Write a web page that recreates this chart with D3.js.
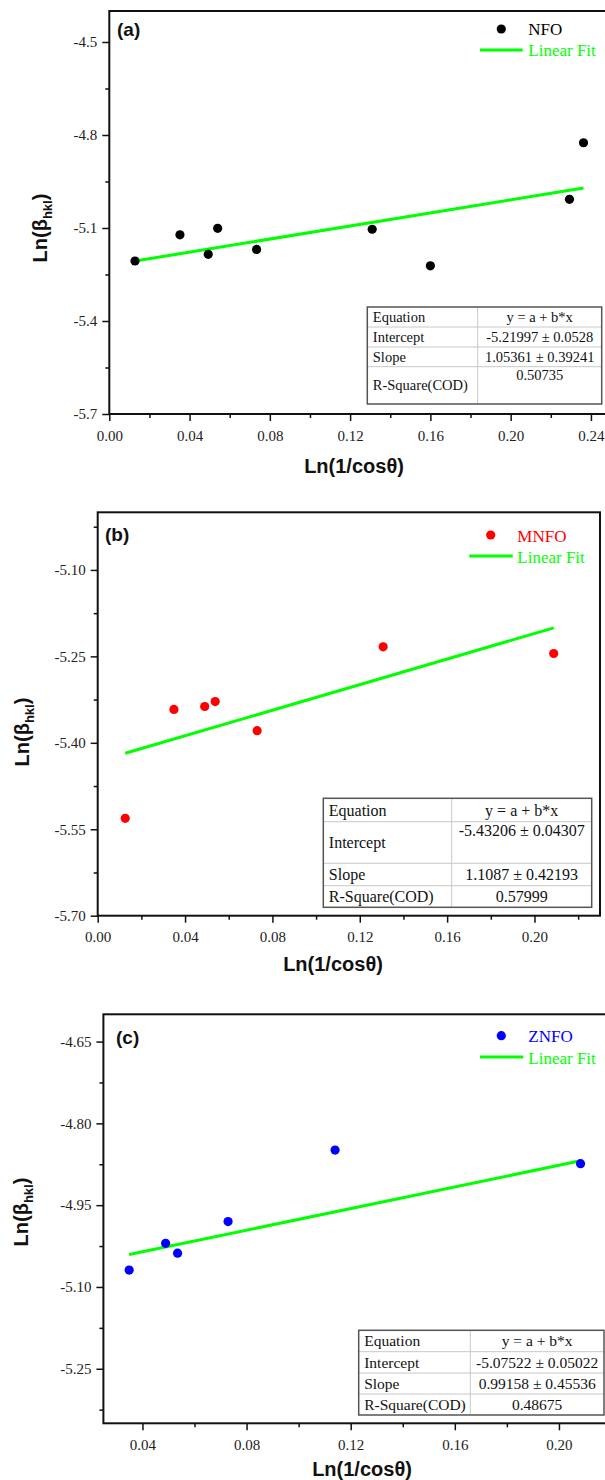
<!DOCTYPE html>
<html>
<head>
<meta charset="utf-8">
<script src="https://cdnjs.cloudflare.com/ajax/libs/d3/7.8.5/d3.min.js"></script>
<style>
  html, body { margin: 0; padding: 0; background: #fff; }
  svg { display: block; }
  .axis .tick text { font-family: "Liberation Serif", "Times New Roman", serif; font-size: 15px; fill: #222; }
  .axis .tick line { stroke: #111; stroke-width: 1.5; }
  .axis path.domain { display: none; }
  .frame { fill: none; stroke: #111; stroke-width: 2; }
  .title { font-family: "Liberation Sans", Arial, sans-serif; font-weight: bold; font-size: 20px; fill: #111; }
  .plabel { font-family: "Liberation Sans", Arial, sans-serif; font-weight: bold; font-size: 19px; fill: #111; }
  .legend text { font-family: "Liberation Serif", "Times New Roman", serif; font-size: 17px; }
  .tbl text { font-family: "Liberation Serif", "Times New Roman", serif; fill: #111; }
</style>
</head>
<body>
<div id="vis"></div>
<script>

// ---- data ----
var seriesNames = ["NFO", "MNFO", "ZNFO"];
var panelNames = ["(a)", "(b)", "(c)"];

var xNFO = [0.0128, 0.0352, 0.0493, 0.0540, 0.0734, 0.1310, 0.1600, 0.2293, 0.2363];
var yNFO = [-5.2065, -5.122, -5.185, -5.101, -5.169, -5.104, -5.222, -5.0075, -4.825];

var xMNFO = [0.0126, 0.0349, 0.0490, 0.0538, 0.0730, 0.1307, 0.2088];
var yMNFO = [-5.531, -5.342, -5.337, -5.3285, -5.379, -5.2335, -5.245];

var xZNFO = [0.0349, 0.0489, 0.0535, 0.0729, 0.1140, 0.2083];
var yZNFO = [-5.069, -5.020, -5.038, -4.980, -4.849, -4.874];

// fit results (as printed in the tables)
var intercepts = [-5.21997, -5.43206, -5.07522];
var slopes = [1.05361, 1.1087, 0.99158];
var tableRowNames = ["Equation", "Intercept", "Slope", "R-Square(COD)"];
var equationText = "y = a + b*x";
var interceptText = ["-5.21997 \u00b1 0.0528", "-5.43206 \u00b1 0.04307", "-5.07522 \u00b1 0.05022"];
var slopeText = ["1.05361 \u00b1 0.39241", "1.1087 \u00b1 0.42193", "0.99158 \u00b1 0.45536"];
var rSquareText = ["0.50735", "0.57999", "0.48675"];

// axes
var xDomains = [[0, 0.25], [0, 0.23], [0.025, 0.22]];
var yDomains = [[-5.7, -4.4], [-5.70, -5.00], [-5.35, -4.60]];
var xTicks = [[0, 0.04, 0.08, 0.12, 0.16, 0.20, 0.24],
              [0, 0.04, 0.08, 0.12, 0.16, 0.20],
              [0.04, 0.08, 0.12, 0.16, 0.20]];
var xMinorTicks = [[0.02, 0.06, 0.10, 0.14, 0.18, 0.22],
                   [0.02, 0.06, 0.10, 0.14, 0.18, 0.22],
                   [0.06, 0.10, 0.14, 0.18]];
var yTicks = [[-5.7, -5.4, -5.1, -4.8, -4.5],
              [-5.70, -5.55, -5.40, -5.25, -5.10],
              [-5.25, -5.10, -4.95, -4.80, -4.65]];
var yMinorTicks = [[-5.55, -5.25, -4.95, -4.65],
                   [-5.625, -5.475, -5.325, -5.175, -5.025],
                   [-5.325, -5.175, -5.025, -4.875, -4.725]];
var yTickFormats = [".1f", ".2f", ".2f"];
var xTitle = "Ln(1/cos\u03b8)";

// ---- layout / style ----
var width = 605, height = 1480;
var colors = ["#000000", "#ff0000", "#0000ff"];
var fitColor = "#00ff00";

var layouts = [
  { left: 109.3, right: 611, top: 11, bottom: 414,
    label: [117, 36], yTitle: [47, 228], xTitle: [354, 473],
    legend: { dot: [501.3, 29], line: [480, 522.7, 50], textX: 528.3, base: [35, 56] },
    table: { rows: [307, 327, 347, 366.7, 404], cols: [367.3, 477.7, 601.7], font: 14.5, tall: 3 } },
  { left: 97.7, right: 600, top: 512.3, bottom: 915.7,
    label: [105, 541], yTitle: [29, 732], xTitle: [333, 971],
    legend: { dot: [490.7, 535], line: [469.3, 512.7, 556], textX: 517.3, base: [541.7, 562.7] },
    table: { rows: [798.3, 821.7, 863.3, 885.7, 907.3], cols: [323.3, 451.7, 591.7], font: 16, tall: 1 } },
  { left: 103.4, right: 611, top: 1014.3, bottom: 1423.3,
    label: [116, 1044], yTitle: [28, 1212], xTitle: [362, 1476],
    legend: { dot: [501.3, 1035.7], line: [480, 523.3, 1057], textX: 528.3, base: [1041.7, 1063.7] },
    table: { rows: [1330.3, 1351.7, 1373, 1394, 1415], cols: [358.7, 470.3, 604], font: 15.5, tall: -1 } }
];

var xs = [xNFO, xMNFO, xZNFO],
    ys = [yNFO, yMNFO, yZNFO];

var svg = d3.select('#vis').append('svg')
    .attr('width', width)
    .attr('height', height);

layouts.forEach(function(L, i) { drawPanel(L, i); });

// draws one scatter panel with its fit line, legend and table
function drawPanel(L, i) {
  var g = svg.append('g');

  var x = d3.scaleLinear().domain(xDomains[i]).range([L.left, L.right]);
  var y = d3.scaleLinear().domain(yDomains[i]).range([L.bottom, L.top]);

  // minor ticks first, then major ticks with labels
  g.append('g').attr('class', 'axis')
      .attr('transform', 'translate(0,' + L.bottom + ')')
      .call(d3.axisBottom(x).tickValues(xMinorTicks[i]).tickSize(4).tickFormat(''));
  g.append('g').attr('class', 'axis')
      .attr('transform', 'translate(0,' + L.bottom + ')')
      .call(d3.axisBottom(x).tickValues(xTicks[i]).tickSize(7).tickPadding(4).tickFormat(d3.format('.2f')))
    .selectAll('.tick text').attr('dy', '1.05em');

  g.append('g').attr('class', 'axis')
      .attr('transform', 'translate(' + L.left + ',0)')
      .call(d3.axisLeft(y).tickValues(yMinorTicks[i]).tickSize(4).tickFormat(''));
  g.append('g').attr('class', 'axis')
      .attr('transform', 'translate(' + L.left + ',0)')
      .call(d3.axisLeft(y).tickValues(yTicks[i]).tickSize(7).tickPadding(5)
        .tickFormat(function(d) { return d3.format(yTickFormats[i])(d).replace('\u2212', '-'); }));

  g.selectAll('.axis .tick text').each(function() {
    var t = d3.select(this);
    t.text(t.text().replace('\u2212', '-'));
  });

  g.append('rect').attr('class', 'frame')
      .attr('x', L.left).attr('y', L.top)
      .attr('width', L.right - L.left).attr('height', L.bottom - L.top);

  // fit line over the data range
  var ext = d3.extent(xs[i]);
  g.append('path')
      .datum(ext)
      .attr('fill', 'none')
      .attr('stroke', fitColor)
      .attr('stroke-width', 3)
      .attr('d', d3.line()
        .x(function(d) { return x(d); })
        .y(function(d) { return y(intercepts[i] + slopes[i] * d); }));

  // points
  g.selectAll('circle.pt')
      .data(d3.range(xs[i].length))
      .enter().append('circle')
        .attr('class', 'pt')
        .attr('cx', function(k) { return x(xs[i][k]); })
        .attr('cy', function(k) { return y(ys[i][k]); })
        .attr('r', 4.6)
        .attr('fill', colors[i]);

  // panel letter
  g.append('text').attr('class', 'plabel')
      .attr('x', L.label[0]).attr('y', L.label[1])
      .text(panelNames[i]);

  // axis titles
  g.append('text').attr('class', 'title')
      .attr('x', L.xTitle[0]).attr('y', L.xTitle[1])
      .attr('text-anchor', 'middle')
      .text(xTitle);

  var yt = g.append('text').attr('class', 'title')
      .attr('transform', 'translate(' + L.yTitle[0] + ',' + L.yTitle[1] + ') rotate(-90)')
      .attr('text-anchor', 'middle');
  yt.append('tspan').text('Ln(\u03b2');
  yt.append('tspan').attr('font-size', '13px').attr('dy', 5).text('hkl');
  yt.append('tspan').attr('dy', -5).text(')');

  // legend
  var lg = g.append('g').attr('class', 'legend');
  lg.append('circle')
      .attr('cx', L.legend.dot[0]).attr('cy', L.legend.dot[1])
      .attr('r', 4.6).attr('fill', colors[i]);
  lg.append('text')
      .attr('x', L.legend.textX).attr('y', L.legend.base[0])
      .attr('fill', colors[i])
      .text(seriesNames[i]);
  lg.append('line')
      .attr('x1', L.legend.line[0]).attr('x2', L.legend.line[1])
      .attr('y1', L.legend.line[2]).attr('y2', L.legend.line[2])
      .attr('stroke', fitColor).attr('stroke-width', 3);
  lg.append('text')
      .attr('x', L.legend.textX).attr('y', L.legend.base[1])
      .attr('fill', fitColor)
      .text('Linear Fit');

  drawTable(g, L.table, i);
}

// the fit result box
function drawTable(g, T, i) {
  var tg = g.append('g').attr('class', 'tbl');
  var r = T.rows, c = T.cols, fs = T.font;
  var values = [equationText, interceptText[i], slopeText[i], rSquareText[i]];

  tg.append('rect')
      .attr('x', c[0]).attr('y', r[0])
      .attr('width', c[2] - c[0]).attr('height', r[4] - r[0])
      .attr('fill', '#fff');

  // inner lines
  tg.selectAll('line.h')
      .data(r.slice(1, 4))
      .enter().append('line')
        .attr('x1', c[0]).attr('x2', c[2])
        .attr('y1', function(d) { return d; }).attr('y2', function(d) { return d; })
        .attr('stroke', '#c8c8c8').attr('stroke-width', 1);
  tg.append('line')
      .attr('x1', c[1]).attr('x2', c[1])
      .attr('y1', r[0]).attr('y2', r[4])
      .attr('stroke', '#c8c8c8').attr('stroke-width', 1);

  tg.append('rect')
      .attr('x', c[0]).attr('y', r[0])
      .attr('width', c[2] - c[0]).attr('height', r[4] - r[0])
      .attr('fill', 'none').attr('stroke', '#555').attr('stroke-width', 1.5);

  tableRowNames.forEach(function(name, k) {
    var mid = (r[k] + r[k + 1]) / 2;
    tg.append('text')
        .attr('x', c[0] + 5.5)
        .attr('y', mid + 0.35 * fs)
        .attr('font-size', fs + 'px')
        .text(name);
    tg.append('text')
        .attr('x', (c[1] + c[2]) / 2)
        .attr('y', k === T.tall ? r[k] + 0.92 * fs : mid + 0.35 * fs)
        .attr('text-anchor', 'middle')
        .attr('font-size', fs + 'px')
        .text(values[k]);
  });
}

</script>
</body>
</html>
